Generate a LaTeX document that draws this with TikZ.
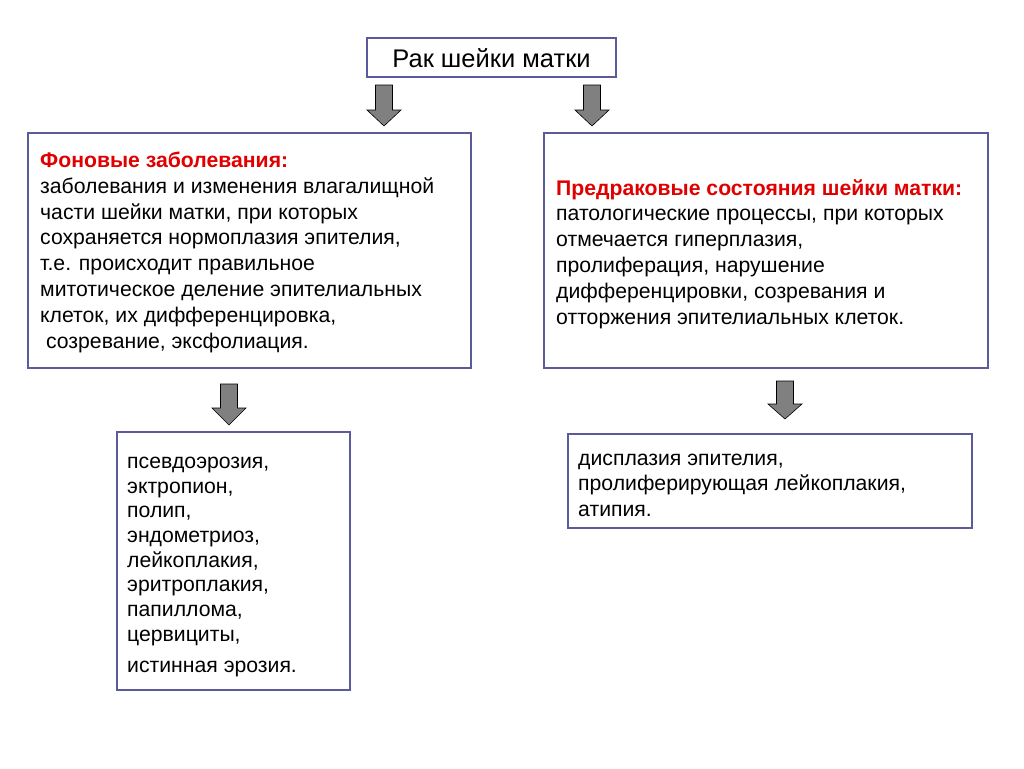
\documentclass[tikz,border=0pt]{standalone}
\usepackage{fontspec}
\setmainfont{Liberation Sans}
\definecolor{boxline}{HTML}{5B5B9B}
\definecolor{arrowfill}{HTML}{808080}
\definecolor{headred}{HTML}{E00000}
\begin{document}
\begin{tikzpicture}[x=1pt,y=-1pt,
  box/.style={draw=boxline,line width=1.2pt,fill=white},
  txt/.style={anchor=base west,align=left,inner sep=0pt,font=\fontsize{21.2}{25.8}\selectfont},
  listtxt/.style={txt,font=\fontsize{21.2}{24.7}\selectfont},
  bigarrow/.style={draw=black,line width=0.6pt,fill=arrowfill}]
\useasboundingbox (0,0) rectangle (1024,768);
\fill[white] (0,0) rectangle (1024,768);
% boxes
\draw[box] (367,38) rectangle (616,77);
\node[inner sep=0pt,font=\fontsize{25.5}{28}\selectfont] (top) at (491.5,58.5) {Рак шейки матки};
\draw[box] (28,133) rectangle (471,368);
\draw[box] (544,133) rectangle (988,368);
\draw[box] (117,432) rectangle (350,690);
\draw[box] (568,434) rectangle (972,528);
% arrows
\newcommand{\fatarrow}[4]{% cx, ytop, yhead, ytip
  \draw[bigarrow] (#1-8.5,#2) -- (#1+8.5,#2) -- (#1+8.5,#3) -- (#1+17,#3) -- (#1,#4) -- (#1-17,#3) -- (#1-8.5,#3) -- cycle;}
\fatarrow{384}{85}{110}{126}
\fatarrow{592}{85}{110}{126}
\fatarrow{229}{384}{408}{425}
\fatarrow{785}{381}{404}{419}
% texts (base anchor = last line's baseline)
\node[txt] (bg) at (40,348) {{\bfseries\color{headred}Фоновые заболевания:}\\
заболевания и изменения влагалищной\\
части шейки матки, при которых\\
сохраняется нормоплазия эпителия,\\
т.е. происходит правильное\\
митотическое деление эпителиальных\\
клеток, их дифференцировка,\\
\ созревание, эксфолиация.};
\node[txt] (pre) at (556,324) {{\bfseries\color{headred}Предраковые состояния шейки матки:}\\
патологические процессы, при которых\\
отмечается гиперплазия,\\
пролиферация, нарушение\\
дифференцировки, созревания и\\
отторжения эпителиальных клеток.};
\node[listtxt] (list1) at (127,672) {псевдоэрозия,\\
эктропион,\\
полип,\\
эндометриоз,\\
лейкоплакия,\\
эритроплакия,\\
папиллома,\\
цервициты,\\[6pt]
истинная эрозия.};
\node[txt,font=\fontsize{21.2}{25.5}\selectfont] (list2) at (578,516) {дисплазия эпителия,\\
пролиферирующая лейкоплакия,\\
атипия.};
\end{tikzpicture}
\end{document}
